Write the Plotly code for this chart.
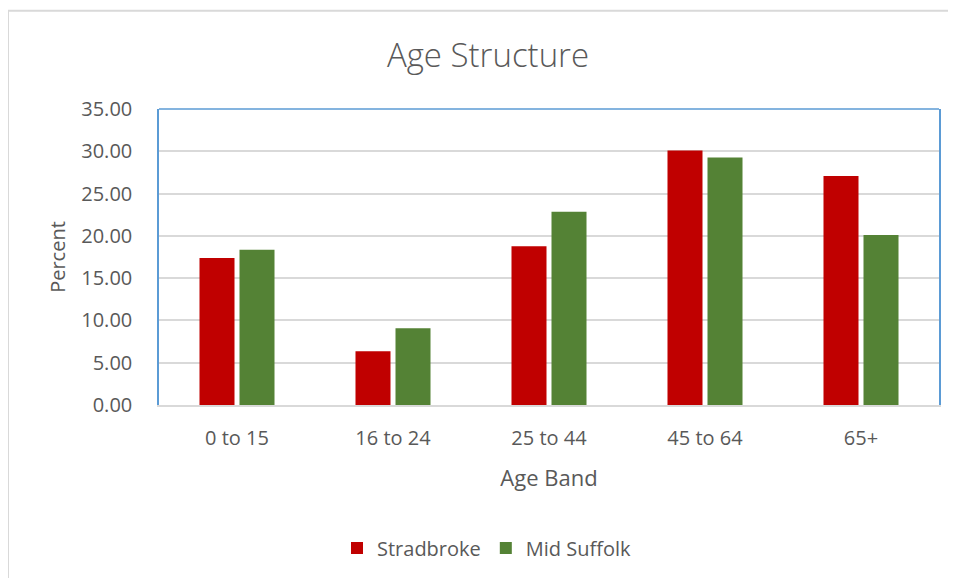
import plotly.graph_objects as go

categories = ["0 to 15", "16 to 24", "25 to 44", "45 to 64", "65+"]
stradbroke = [17.38, 6.37, 18.76, 30.08, 27.09]
mid_suffolk = [18.37, 9.08, 22.85, 29.26, 20.09]
series_names = ["Stradbroke", "Mid Suffolk"]
y_tick_vals = [0, 5, 10, 15, 20, 25, 30, 35]

FONT = "'Open Sans', sans-serif"
TXT = "#595959"
GRID = "#D9D9D9"
BLUE = "#5B9BD5"

# page body has an 8px margin; figure coordinates are screen - 8
OFF = 8
W, H = 956 - OFF, 578 - OFF
L, R, T, B = 159 - OFF, 17, 109 - OFF, 172
pw = W - L - R
ph = H - T - B


def px(sx):
    return (sx - OFF - L) / pw


def py(sy):
    return (H - B - (sy - OFF)) / ph


fig = go.Figure()
fig.add_trace(go.Bar(x=categories, y=stradbroke, name=series_names[0],
                     marker=dict(color="#C00000", line=dict(width=0))))
fig.add_trace(go.Bar(x=categories, y=mid_suffolk, name=series_names[1],
                     marker=dict(color="#548235", line=dict(width=0))))

fig.update_layout(
    width=W, height=H,
    margin=dict(l=L, r=R, t=T, b=B),
    paper_bgcolor="white", plot_bgcolor="white",
    font=dict(family=FONT, color=TXT, size=20),
    title=dict(text="Age Structure", x=px(488), xanchor="center", xref="paper",
               y=1 - (55 - OFF) / H, yanchor="middle",
               font=dict(size=33, color=TXT, family=FONT, weight=300)),
    barmode="group", bargap=0.487, bargroupgap=0.125,
    showlegend=True,
    legend=dict(orientation="h", x=px(487), xanchor="center", y=py(548), yanchor="middle",
                font=dict(size=20, color=TXT), traceorder="normal"),
    xaxis=dict(title=dict(text="Age Band", font=dict(size=22, color=TXT), standoff=21),
               showline=True, linecolor=GRID, linewidth=1.5, showgrid=False,
               ticks="", tickfont=dict(size=20, color=TXT), ticklabelstandoff=14),
    yaxis=dict(title=dict(text="Percent", font=dict(size=20, color=TXT), standoff=10),
               range=[0, 35], tickvals=y_tick_vals, tickformat=".2f",
               showgrid=True, gridcolor=GRID, gridwidth=1.5,
               showline=True, mirror=True, linecolor=BLUE, linewidth=1.5,
               zeroline=False, ticks="", tickfont=dict(size=20, color=TXT),
               ticklabelstandoff=21),
    shapes=[
        dict(type="line", xref="paper", yref="paper", x0=0, x1=1, y0=1, y1=1,
             line=dict(color=BLUE, width=1.5)),
        dict(type="rect", xref="paper", yref="paper", x0=px(8), x1=px(970), y0=py(10.5), y1=py(600),
             line=dict(color=GRID, width=2), layer="below"),
    ],
)

fig.write_html("out.html")
